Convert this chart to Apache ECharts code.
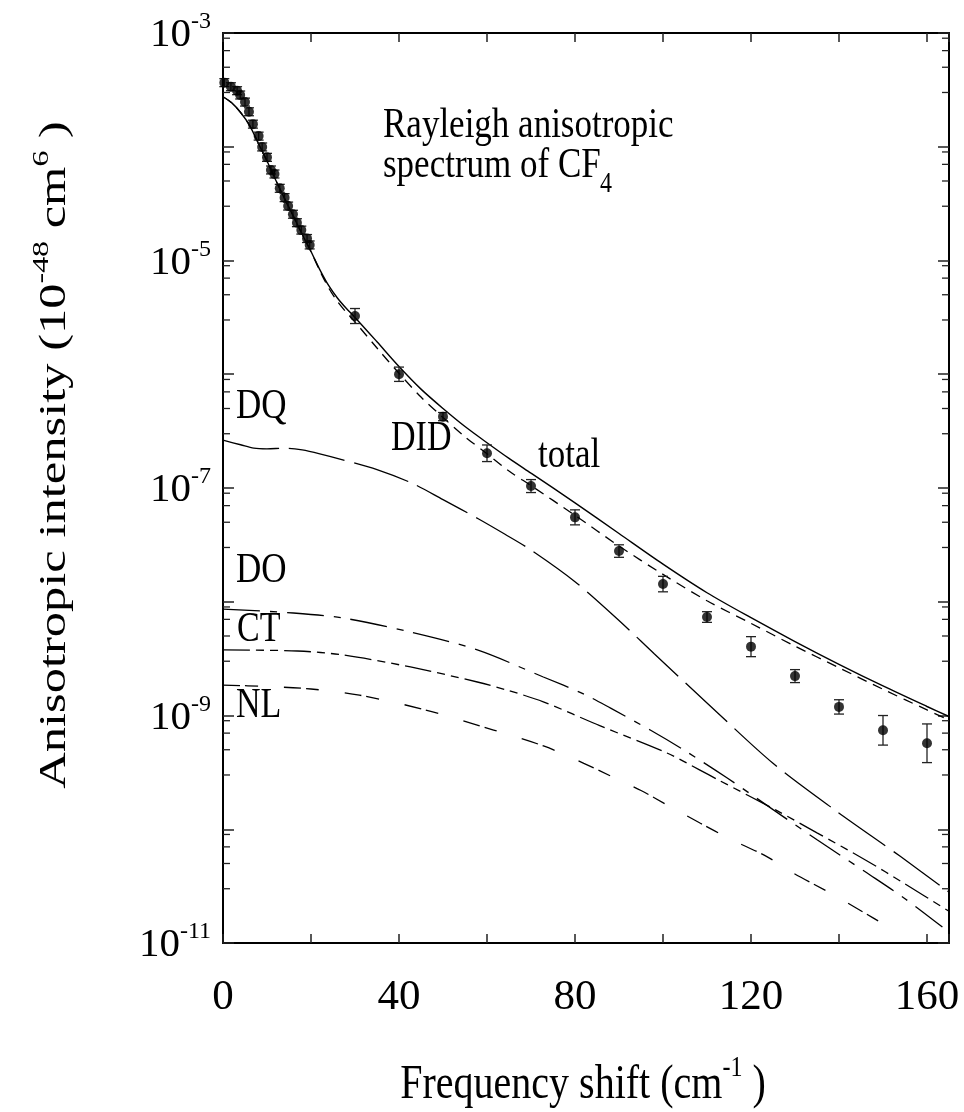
<!DOCTYPE html>
<html><head><meta charset="utf-8">
<script src="https://cdn.jsdelivr.net/npm/echarts@6/dist/echarts.min.js"></script>
<style>html,body{margin:0;padding:0;background:#fff}#c{width:964px;height:1112px}</style>
</head><body><div id="c"></div>
<script>
const FONT = '"Liberation Serif", "Times New Roman", serif';

// measured points
const pointX = [0.3,1.8,3.2,3.9,5.0,5.9,6.8,8.1,8.9,10.0,10.9,11.7,12.9,14.0,14.8,15.9,16.8,17.8,19.1,19.7,30,40,50,60,70,80,90,100,110,120,130,140,150,160];
const pointY = [3.66e-4,3.37e-4,3.11e-4,2.85e-4,2.47e-4,2.03e-4,1.58e-4,1.24e-4,9.96e-5,8.07e-5,6.25e-5,5.76e-5,4.31e-5,3.57e-5,3.01e-5,2.55e-5,2.15e-5,1.85e-5,1.56e-5,1.37e-5,3.25e-6,1.0e-6,4.24e-7,2.02e-7,1.04e-7,5.52e-8,2.79e-8,1.43e-8,7.34e-9,4.03e-9,2.22e-9,1.19e-9,7.41e-10,5.70e-10];
const pointErrDex = [0.035,0.035,0.035,0.035,0.035,0.035,0.035,0.035,0.035,0.035,0.035,0.035,0.035,0.035,0.035,0.035,0.035,0.035,0.035,0.035,0.066,0.063,0.036,0.073,0.057,0.066,0.055,0.068,0.047,0.088,0.057,0.063,0.13,0.17];

// model curves
const totalX = [0,2,4,6,8,10,12,14,16,18,20,22,24,26,28,30,35,40,45,50,55,60,65,70,80,90,100,110,120,130,140,150,160,165];
const totalY = [2.75e-4,2.43e-4,2.0e-4,1.55e-4,1.08e-4,7.5e-5,5.07e-5,3.5e-5,2.45e-5,1.7e-5,1.2e-5,8.32e-6,6.03e-6,4.68e-6,3.8e-6,3.16e-6,1.93e-6,1.17e-6,7.4e-7,5.0e-7,3.47e-7,2.5e-7,1.82e-7,1.35e-7,7.41e-8,3.98e-8,2.14e-8,1.2e-8,7.24e-9,4.47e-9,2.82e-9,1.82e-9,1.2e-9,9.8e-10];
const didX = [0,2,4,6,8,10,12,14,16,18,20,22,24,26,28,30,35,40,45,50,55,60,65,70,80,90,100,110,120,130,140,150,160,165];
const didY = [2.75e-4,2.43e-4,2.0e-4,1.55e-4,1.08e-4,7.5e-5,5.07e-5,3.5e-5,2.45e-5,1.7e-5,1.2e-5,8.13e-6,5.75e-6,4.37e-6,3.51e-6,2.88e-6,1.7e-6,1.02e-6,6.3e-7,4.17e-7,2.82e-7,2.0e-7,1.41e-7,1.05e-7,5.75e-8,3.09e-8,1.74e-8,1.02e-8,6.46e-9,4.07e-9,2.63e-9,1.7e-9,1.12e-9,9.1e-10];
const dqX = [0,4,7,10,14,18,22,27,35,43,50,58,64,70,80,90,98,110,125,139,154,165];
const dqY = [2.63e-7,2.4e-7,2.24e-7,2.21e-7,2.24e-7,2.16e-7,2.0e-7,1.78e-7,1.45e-7,1.1e-7,7.9e-8,5.37e-8,3.94e-8,2.85e-8,1.5e-8,6.85e-9,3.49e-9,1.29e-9,3.8e-10,1.48e-10,5.75e-11,2.8e-11];
const doX = [0,16,27.3,42.6,57.8,72.8,81.9,88.1,97.1,104.6,114.6,125.1,135.1,146.4,155,163.5];
const doY = [8.63e-9,7.96e-9,7.19e-9,5.42e-9,3.77e-9,2.18e-9,1.55e-9,1.16e-9,7.45e-10,5.01e-10,2.82e-10,1.48e-10,8.04e-11,4.12e-11,2.45e-11,1.38e-11];
const ctX = [0,16.9,27.4,42.6,57.8,64.6,72.8,85.75,100.9,108.4,112.3,126,135,146,155,165];
const ctY = [3.77e-9,3.69e-9,3.4e-9,2.67e-9,1.97e-9,1.67e-9,1.32e-9,8.1e-10,4.68e-10,3.31e-10,2.75e-10,1.45e-10,9.3e-11,5.37e-11,3.31e-11,1.9e-11];
const nlX = [0,10,20,31,46,61.5,73,82,88,95,101,108.5,115,123.6,129.7,138,144,152.4];
const nlY = [1.85e-9,1.8e-9,1.71e-9,1.51e-9,1.12e-9,7.45e-10,5.37e-10,3.8e-10,2.95e-10,2.19e-10,1.63e-10,1.13e-10,8.3e-11,5.75e-11,4.1e-11,2.75e-11,2.02e-11,1.3e-11];

// axis ticks / labels
const xLabelValues = [0,40,80,120,160];
const yLabelExponents = [-3,-5,-7,-9,-11];
const minorTickMultipliers = [3,5,7,9];
const decadeExponents = [-11,-10,-9,-8,-7,-6,-5,-4];

const pairs = (xs, ys) => xs.map((x, i) => [x, ys[i]]);
const minorTicks = [];
decadeExponents.forEach(e => minorTickMultipliers.forEach(m => minorTicks.push([0, m * Math.pow(10, e)])));

const lineSeries = (name, xs, ys, type, width) => ({
  name, type: 'line', data: pairs(xs, ys), symbol: 'none', smooth: 0.3,
  lineStyle: { color: '#000', width: width || 1.3, type: type },
  z: 3, silent: true
});

const axisCommon = {
  axisLine: { show: true, onZero: false, lineStyle: { color: '#000', width: 2 } },
  splitLine: { show: false }
};
const txt = (text, x, y, size) => ({ type: 'text', x, y, scaleY: 1.22,
  style: { text, fontSize: size, fontFamily: FONT, fill: '#000', align: 'left', verticalAlign: 'bottom' } });

const chart = echarts.init(document.getElementById('c'), null, { renderer: 'canvas' });
chart.setOption({
  animation: false,
  backgroundColor: '#fff',
  grid: { left: 223, top: 33, width: 726, height: 910, containLabel: false },
  xAxis: [
    Object.assign({}, axisCommon, {
      type: 'value', min: 0, max: 165, interval: 20, position: 'bottom',
      axisTick: { inside: true, length: 9, lineStyle: { color: '#222', width: 1.5 } },
      axisLabel: {
        margin: 33, color: '#000', fontFamily: FONT, fontSize: 43,
        formatter: v => xLabelValues.includes(v) ? String(v) : ''
      }
    }),
    Object.assign({}, axisCommon, {
      type: 'value', min: 0, max: 165, interval: 20, position: 'top',
      axisTick: { inside: true, length: 9, lineStyle: { color: '#222', width: 1.5 } },
      axisLabel: { show: false }
    })
  ],
  yAxis: [
    Object.assign({}, axisCommon, {
      type: 'log', logBase: 10, min: 1e-11, max: 1e-3, splitNumber: 8, position: 'left',
      axisTick: { inside: true, length: 11, lineStyle: { color: '#222', width: 1.5 } },
      axisLabel: {
        margin: 12, color: '#000', fontFamily: FONT,
        formatter: v => {
          const e = Math.round(Math.log10(v));
          return yLabelExponents.includes(e) ? '{b|10}{s|' + e + '}' : '';
        },
        rich: {
          b: { fontSize: 41, fontFamily: FONT, color: '#000', lineHeight: 46, verticalAlign: 'bottom' },
          s: { fontSize: 24, fontFamily: FONT, color: '#000', lineHeight: 24, verticalAlign: 'top' }
        }
      }
    }),
    Object.assign({}, axisCommon, {
      type: 'log', logBase: 10, min: 1e-11, max: 1e-3, splitNumber: 8, position: 'right',
      axisTick: { inside: true, length: 11, lineStyle: { color: '#222', width: 1.5 } },
      axisLabel: { show: false }
    })
  ],
  series: [
    {
      type: 'custom', name: 'minor ticks', silent: true, z: 2,
      data: minorTicks,
      encode: { x: 0, y: 1 },
      renderItem: (params, api) => {
        const v = api.value(1);
        const pl = api.coord([0, v]);
        const pr = api.coord([165, v]);
        const st = { stroke: '#222', lineWidth: 1.3 };
        return { type: 'group', children: [
          { type: 'line', shape: { x1: pl[0], y1: pl[1], x2: pl[0] + 7, y2: pl[1] }, style: st },
          { type: 'line', shape: { x1: pr[0], y1: pr[1], x2: pr[0] - 7, y2: pr[1] }, style: st }
        ] };
      }
    },
    lineSeries('total', totalX, totalY, 'solid', 1.4),
    lineSeries('DID', didX, didY, [10, 7], 1.3),
    lineSeries('DQ', dqX, dqY, [57, 10], 1.3),
    lineSeries('DO', doX, doY, [37, 10, 7, 10], 1.3),
    lineSeries('CT', ctX, ctY, [27, 6, 8, 6, 8, 6], 1.3),
    lineSeries('NL', nlX, nlY, [17, 5, 13, 26], 1.3),
    {
      type: 'custom', name: 'error bars', silent: true, z: 4,
      data: pointX.map((x, i) => [x, pointY[i] / Math.pow(10, pointErrDex[i]), pointY[i] * Math.pow(10, pointErrDex[i])]),
      encode: { x: 0, y: [1, 2] },
      renderItem: (params, api) => {
        const x = api.value(0);
        const a = api.coord([x, api.value(2)]);
        const b = api.coord([x, api.value(1)]);
        const w = 5;
        const st = { stroke: '#222', lineWidth: 1.3 };
        return { type: 'group', children: [
          { type: 'line', shape: { x1: a[0], y1: a[1], x2: b[0], y2: b[1] }, style: st },
          { type: 'line', shape: { x1: a[0] - w, y1: a[1], x2: a[0] + w, y2: a[1] }, style: st },
          { type: 'line', shape: { x1: b[0] - w, y1: b[1], x2: b[0] + w, y2: b[1] }, style: st }
        ] };
      }
    },
    {
      type: 'scatter', name: 'experiment', data: pairs(pointX, pointY),
      symbol: 'circle', symbolSize: 10, itemStyle: { color: '#000' }, z: 5, silent: true
    }
  ],
  graphic: [
    { type: 'text', x: 52, y: 455, rotation: Math.PI / 2, scaleX: 1.33,
      style: { text: '{a|Anisotropic intensity (10}{s|-48}{a| cm}{s|6}{a| )}', align: 'center', verticalAlign: 'middle',
        rich: { a: { fontSize: 38, fontFamily: FONT, fill: '#000', lineHeight: 44, verticalAlign: 'bottom' },
                s: { fontSize: 24, fontFamily: FONT, fill: '#000', lineHeight: 24, verticalAlign: 'top' } } } },
    { type: 'text', x: 583, y: 1082, scaleY: 1.2,
      style: { text: '{a|Frequency shift (cm}{s|-1}{a| )}', align: 'center', verticalAlign: 'middle',
        rich: { a: { fontSize: 40, fontFamily: FONT, fill: '#000', lineHeight: 46, verticalAlign: 'bottom' },
                s: { fontSize: 24, fontFamily: FONT, fill: '#000', lineHeight: 24, verticalAlign: 'top' } } } },
    txt('Rayleigh anisotropic', 383, 147, 35),
    txt('spectrum of CF', 383, 187, 35),
    txt('4', 600, 199, 24),
    txt('DQ', 236, 428, 35),
    txt('DID', 391, 460, 34),
    txt('total', 538, 477, 35),
    txt('DO', 236, 592, 35),
    txt('CT', 237, 651, 34),
    txt('NL', 236, 727, 34)
  ]
});
</script></body></html>
